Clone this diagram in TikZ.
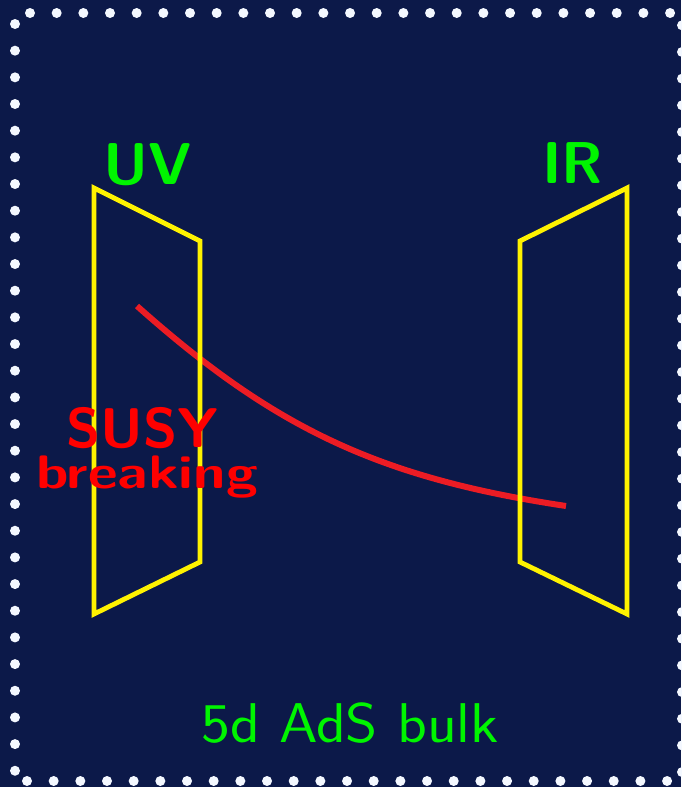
\documentclass[tikz,border=0pt]{standalone}
\usepackage{xcolor}
\usepackage{graphicx}
\usepackage{tikz}
\definecolor{bulknavy}{HTML}{0C1949}
\definecolor{branegold}{HTML}{FFF200}
\definecolor{labelgreen}{HTML}{00F500}
\definecolor{susyred}{HTML}{FF0000}
\definecolor{curvered}{HTML}{EC1C24}
\definecolor{dotwhite}{HTML}{F4F8FF}

\begin{document}
\begin{tikzpicture}[x=0.5pt, y=-0.5pt]
  \tikzset{
    brane/.style={branegold, line width=2.4pt, line join=miter},
    branelabel/.style={labelgreen, inner sep=0pt, anchor=base,
      font=\sffamily\bfseries\fontsize{29.5}{34}\selectfont},
    susylabel/.style={susyred, inner sep=0pt, anchor=base, font=\sffamily\bfseries}
  }
  \useasboundingbox (0,0) rectangle (681,787);
  \fill[bulknavy] (0,0) rectangle (681,787);
  % dotted frame
  \foreach \k in {0,...,24} {
    \fill[dotwhite] (30+26.67*\k,13) circle (5);
    \fill[dotwhite] (27+26.67*\k,781) circle (5);
  }
  \foreach \k in {0,...,28} {
    \fill[dotwhite] (15,24+26.67*\k) circle (5);
    \fill[dotwhite] (682,25.3+26.67*\k) circle (5);
  }
  % warp-factor curve
  \coordinate (uvend) at (137,306);
  \coordinate (irend) at (566,506);
  \draw[curvered, line width=3pt] (uvend) .. controls (275,429) and (380,478) .. (irend);
  % branes
  \draw[brane] (94,188) -- (200,241) -- (200,562) -- (94,614) -- cycle;
  \draw[brane] (520,241) -- (627,188) -- (627,614) -- (520,562) -- cycle;
  \node[branelabel] (uv) at (148,184) {UV};
  \node[branelabel] (ir) at (572.5,183) {IR};
  \node[susylabel, font=\sffamily\bfseries\fontsize{28}{32}\selectfont] (susy) at (142.5,447) {SUSY};
  \node[susylabel, font=\sffamily\bfseries\fontsize{23.5}{28}\selectfont] (breaking) at (147,488)
    {\scalebox{1.23}[1]{breaking}};
  \node[labelgreen, inner sep=0pt, anchor=base, font=\sffamily\fontsize{28}{32}\selectfont]
    (bulk) at (350,742) {\scalebox{1.1}[1]{5d AdS bulk}};
\end{tikzpicture}
\end{document}
